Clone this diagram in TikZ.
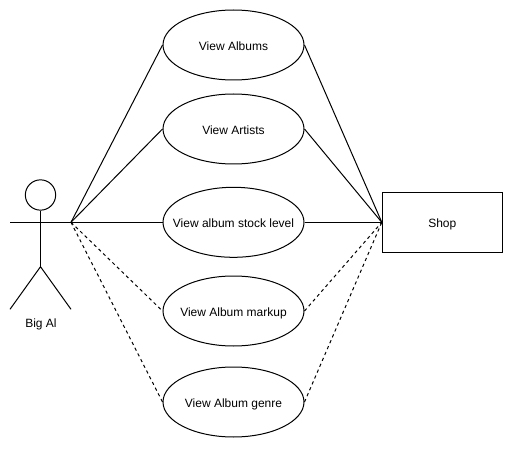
\documentclass[tikz,border=0pt]{standalone}
\usepackage{fontspec}
\setmainfont{Liberation Sans}
\usetikzlibrary{shapes.geometric}
\tikzset{
  px/.style={x=0.75pt,y=-0.75pt},
  lab/.style={font=\fontsize{9pt}{11pt}\selectfont,text height=8.4pt,text depth=0pt},
  usecase/.style={draw,ellipse,line width=0.75pt,minimum width=105.75pt,minimum height=52.5pt,inner sep=0pt,lab},
  lnk/.style={line width=0.75pt},
  dep/.style={line width=0.75pt,dash pattern=on 2.4pt off 2.4pt},
}
\begin{document}
\begin{tikzpicture}[px]
\useasboundingbox (0,0) rectangle (514,449);
\node[usecase] (a) at (233.5,45) {\makebox[0pt]{View Albums}};
\node[usecase] (b) at (233.5,129) {\makebox[0pt]{View Artists}};
\node[usecase] (c) at (233.5,222.3) {\makebox[0pt]{View album stock level}};
\node[usecase] (d) at (233.5,311) {\makebox[0pt]{View Album markup}};
\node[usecase] (e) at (233.5,402) {\makebox[0pt]{View Album genre}};
\node[draw,line width=0.75pt,minimum width=90pt,minimum height=45pt,inner sep=0pt,lab] (s) at (442.3,222.3) {Shop};
\node[draw,circle,line width=0.75pt,minimum size=22.75pt,inner sep=0pt] (head) at (40.5,195) {};
\coordinate (hand) at (71,222.3);
\coordinate (lefthand) at (10,222.3);
\coordinate (hip) at (40.5,266.7);
\coordinate (lf) at (10,309.3);
\coordinate (rf) at (71,309.3);
\draw[lnk] (head.south) -- (hip);
\draw[lnk] (lefthand) -- (hand);
\draw[lnk] (lf) -- (hip) -- (rf);
\node[lab] (name) at (41,322.3) {Big Al};
\draw[lnk] (hand) -- (a.west);
\draw[lnk] (hand) -- (b.west);
\draw[lnk] (hand) -- (c.west);
\draw[dep] (hand) -- (d.west);
\draw[dep] (hand) -- (e.west);
\coordinate (sw) at (s.west);
\draw[lnk] (a.east) -- (sw);
\draw[lnk] (b.east) -- (sw);
\draw[lnk] (c.east) -- (sw);
\draw[dep] (d.east) -- (sw);
\draw[dep] (e.east) -- (sw);
\end{tikzpicture}
\end{document}
